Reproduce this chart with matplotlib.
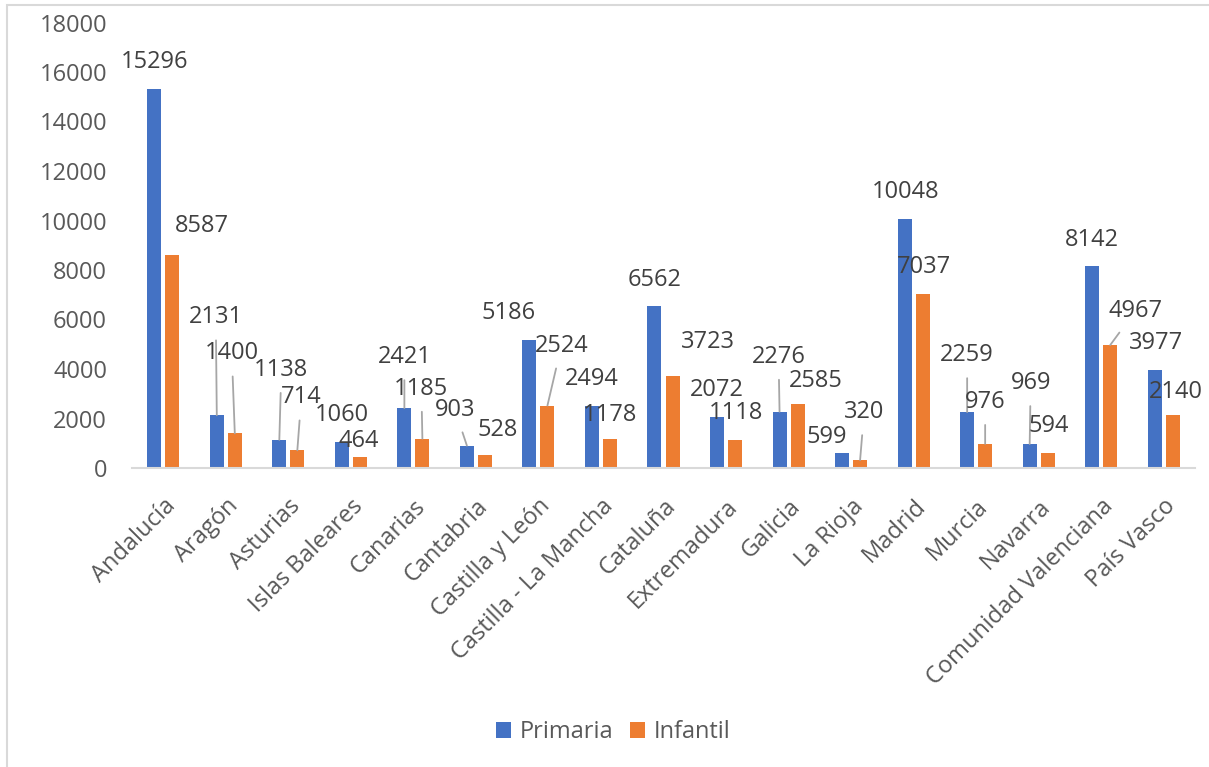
import numpy as np
import matplotlib
matplotlib.use("Agg")
import matplotlib.pyplot as plt
from matplotlib.patches import Rectangle

# DATA
regions = ["Andalucía", "Aragón", "Asturias", "Islas Baleares", "Canarias",
           "Cantabria", "Castilla y León", "Castilla - La Mancha", "Cataluña",
           "Extremadura", "Galicia", "La Rioja", "Madrid", "Murcia", "Navarra",
           "Comunidad Valenciana", "País Vasco"]
primaria = [15296, 2131, 1138, 1060, 2421, 903, 5186, 2494, 6562, 2072,
            2276, 599, 10048, 2259, 969, 8142, 3977]
infantil = [8587, 1400, 714, 464, 1185, 528, 2524, 1178, 3723, 1118,
            2585, 320, 7037, 976, 594, 4967, 2140]
y_ticks = [0, 2000, 4000, 6000, 8000, 10000, 12000, 14000, 16000, 18000]

# LABEL PLACEMENT (pixel offsets from bar top, leader line flag)
prim_offsets = [(0, 27), (-1, 98), (2, 70), (0, 27), (0, 51), (-12, 36),
                (-21, 27), (0, 27), (0, 26), (0, 27), (-1, 55), (-15, 16),
                (1, 27), (0, 57), (1, 61), (0, 26), (1, 27)]
prim_leader = [0, 1, 1, 0, 1, 1, 0, 0, 0, 0, 1, 0, 0, 1, 1, 0, 0]
inf_offsets = [(30, 29), (-3, 80), (4, 53), (-1, 16), (-1, 50), (13, 25),
               (14, 60), (0, 24), (35, 34), (1, 27), (18, 23), (4, 48),
               (1, 27), (0, 42), (1, 27), (25, 34), (3, 23)]
inf_leader = [0, 1, 1, 0, 1, 0, 1, 0, 0, 0, 0, 1, 0, 1, 0, 1, 0]

BLUE = "#4472C4"
ORANGE = "#ED7D31"
TXT = "#595959"
LBL = "#404040"
FS = 17

plt.rcParams['font.family'] = ['Open Sans', 'DejaVu Sans']

fig = plt.figure(figsize=(12.09, 7.67), dpi=100)
ax = fig.add_axes([132 / 1209, 299 / 767, 1063 / 1209, 445.5 / 767])

# CHART BORDER
fig.patches.append(Rectangle((7 / 1209, -0.1), 1.2, 0.1 + 762 / 767,
                             transform=fig.transFigure, fill=False,
                             edgecolor="#D9D9D9", lw=1.5))

x = np.arange(len(regions))
w = 0.224
off = 0.144
b1 = ax.bar(x - off, primaria, w, color=BLUE, label="Primaria")
b2 = ax.bar(x + off, infantil, w, color=ORANGE, label="Infantil")


def add_labels(xs, vals, offsets, leaders):
    for xi, v, (dx, dy), lead in zip(xs, vals, offsets, leaders):
        props = None
        if lead:
            props = dict(arrowstyle="-", color="#A6A6A6", lw=1.3,
                         shrinkA=6, shrinkB=0)
        ax.annotate(str(v), xy=(xi, v), xytext=(dx, dy),
                    textcoords="offset pixels", ha="center", va="center",
                    fontsize=FS, color=LBL, arrowprops=props)


add_labels(x - off, primaria, prim_offsets, prim_leader)
add_labels(x + off, infantil, inf_offsets, inf_leader)

# AXES
ax.set_xlim(-0.5, len(regions) - 0.5)
ax.set_ylim(0, 18000)
ax.set_yticks(y_ticks)
ax.set_yticklabels([str(t) for t in y_ticks], fontsize=FS, color=TXT)
ax.set_xticks(x)
ax.set_xticklabels(regions, fontsize=FS, color=TXT, rotation=45,
                   ha="right", va="top", rotation_mode="anchor")
ax.tick_params(axis="y", length=0, pad=18)
ax.tick_params(axis="x", length=0, pad=19)
for s in ["top", "right", "left"]:
    ax.spines[s].set_visible(False)
ax.spines["bottom"].set_color("#D9D9D9")
ax.spines["bottom"].set_linewidth(1.5)

# LEGEND
leg = fig.legend(handles=[b1, b2], loc="center", bbox_to_anchor=(613 / 1209, 1 - 732 / 767),
                 ncol=2, frameon=False, fontsize=FS, handlelength=0.65,
                 handleheight=0.65, handletextpad=0.35, columnspacing=0.7)
for t in leg.get_texts():
    t.set_color(TXT)

plt.savefig("out.png", dpi=100)
